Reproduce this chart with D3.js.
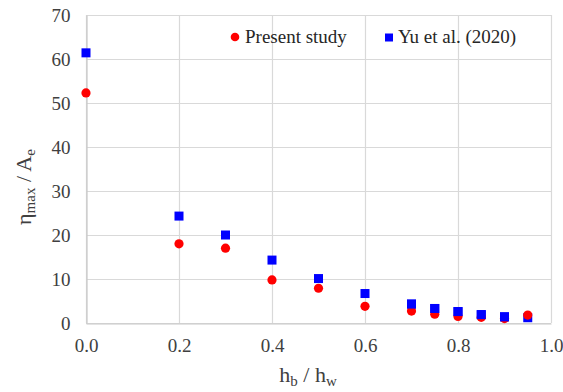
<!DOCTYPE html>
<html>
<head>
<meta charset="utf-8">
<script src="https://cdn.jsdelivr.net/npm/d3@7"></script>
<style>
  html, body { margin: 0; padding: 0; background: #fff; }
  svg { display: block; font-family: "Liberation Serif", "Times New Roman", serif; }
</style>
</head>
<body>
<svg id="chart" width="563" height="392"></svg>
<script>
// Ratio of wave heights h_b / h_w
const ratios = [0.0, 0.2, 0.3, 0.4, 0.5, 0.6, 0.7, 0.75, 0.8, 0.85, 0.9, 0.95];
// eta_max / A_e, present study
const presentStudy = [52.3, 18.0, 17.0, 9.8, 7.9, 3.8, 2.7, 2.0, 1.5, 1.3, 1.0, 1.8];
// eta_max / A_e, Yu et al. (2020)
const yuEtAl = [61.4, 24.3, 20.0, 14.3, 10.1, 6.7, 4.3, 3.3, 2.6, 1.9, 1.4, 1.2];
const xTicks = [0.0, 0.2, 0.4, 0.6, 0.8, 1.0];
const yTicks = [0, 10, 20, 30, 40, 50, 60, 70];

const svg = d3.select("#chart");
const m = { left: 86, right: 551, top: 15, bottom: 323 };

const x = d3.scaleLinear().domain([0, 1]).range([m.left, m.right]);
const y = d3.scaleLinear().domain([0, 70]).range([m.bottom, m.top]);

const grid = "#d9d9d9";

// gridlines
svg.append("g").selectAll("line").data(yTicks).join("line")
  .attr("x1", m.left).attr("x2", m.right)
  .attr("y1", d => y(d) + 0.5).attr("y2", d => y(d) + 0.5)
  .attr("stroke", grid).attr("stroke-width", 1.2);
svg.append("g").selectAll("line").data(xTicks).join("line")
  .attr("x1", d => x(d) + 0.5).attr("x2", d => x(d) + 0.5)
  .attr("y1", m.top).attr("y2", m.bottom)
  .attr("stroke", grid).attr("stroke-width", 1.2);

// axes
const xAxis = d3.axisBottom(x).tickValues(xTicks).tickFormat(d3.format(".1f")).tickSize(0).tickPadding(15);
const yAxis = d3.axisLeft(y).tickValues(yTicks).tickFormat(d3.format("d")).tickSize(0).tickPadding(16);

const gx = svg.append("g").attr("transform", `translate(0,${m.bottom + 0.5})`).call(xAxis);
const gy = svg.append("g").attr("transform", `translate(${m.left + 0.5},0)`).call(yAxis);
[gx, gy].forEach(g => {
  g.select(".domain").attr("stroke", "#c8c8c8").attr("stroke-width", 1.2);
  g.selectAll("text").attr("font-size", 19).attr("fill", "#404040")
    .attr("font-family", "Liberation Serif, Times New Roman, serif");
});

// markers
const sq = 9;
svg.append("g").selectAll("rect").data(ratios).join("rect")
  .attr("x", (d) => x(d) - sq / 2)
  .attr("y", (d, i) => y(yuEtAl[i]) - sq / 2)
  .attr("width", sq).attr("height", sq)
  .attr("fill", "#0000ff");
svg.append("g").selectAll("circle").data(ratios).join("circle")
  .attr("cx", d => x(d))
  .attr("cy", (d, i) => y(presentStudy[i]))
  .attr("r", 4.6)
  .attr("fill", "#ff0000");
// blue squares sit on top of the red dots where the tail overlaps
svg.append("g").selectAll("rect").data(ratios.slice(6, 11)).join("rect")
  .attr("x", (d) => x(d) - sq / 2)
  .attr("y", (d, i) => y(yuEtAl[i + 6]) - sq / 2)
  .attr("width", sq).attr("height", sq)
  .attr("fill", "#0000ff");

// legend
const lg = svg.append("g").attr("font-size", 19).attr("fill", "#262626");
lg.append("circle").attr("cx", 235).attr("cy", 37).attr("r", 4.3).attr("fill", "#ff0000");
lg.append("text").attr("x", 245).attr("y", 43).text("Present study");
lg.append("rect").attr("x", 385).attr("y", 33.5).attr("width", 8).attr("height", 8).attr("fill", "#0000ff");
lg.append("text").attr("x", 398).attr("y", 43).text("Yu et al. (2020)");

// axis titles
const xt = svg.append("text").attr("x", 308).attr("y", 382)
  .attr("text-anchor", "middle").attr("font-size", 22).attr("fill", "#404040");
xt.append("tspan").text("h");
xt.append("tspan").attr("font-size", 15).attr("dy", 4).text("b");
xt.append("tspan").attr("dy", -4).text(" / h");
xt.append("tspan").attr("font-size", 15).attr("dy", 4).text("w");

const yt = svg.append("text")
  .attr("transform", "translate(31,187) rotate(-90)")
  .attr("text-anchor", "middle").attr("font-size", 22).attr("fill", "#404040");
yt.append("tspan").text("η");
yt.append("tspan").attr("font-size", 15).attr("dy", 4).text("max");
yt.append("tspan").attr("dy", -4).text(" / A");
yt.append("tspan").attr("font-size", 15).attr("dy", 4).text("e");
</script>
</body>
</html>
